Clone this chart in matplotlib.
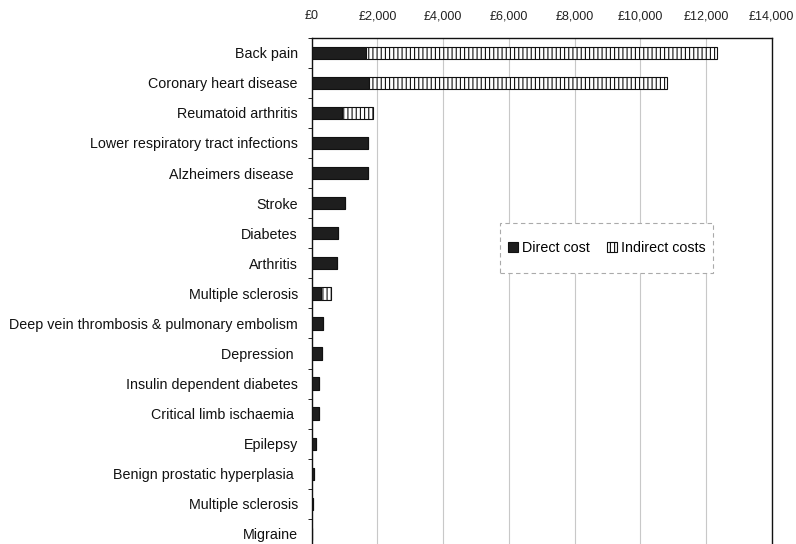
import numpy as np
import matplotlib.pyplot as plt
from matplotlib.patches import Rectangle
from matplotlib.ticker import FuncFormatter, FixedLocator

plt.rcParams['font.family'] = ['Liberation Sans', 'DejaVu Sans']
plt.rcParams['hatch.linewidth'] = 0.8

# Conditions, top to bottom
conditions = ['Back pain', 'Coronary heart disease', 'Reumatoid arthritis',
              'Lower respiratory tract infections', 'Alzheimers disease ',
              'Stroke', 'Diabetes', 'Arthritis', 'Multiple sclerosis',
              'Deep vein thrombosis & pulmonary embolism', 'Depression ',
              'Insulin dependent diabetes', 'Critical limb ischaemia ',
              'Epilepsy', 'Benign prostatic hyperplasia ',
              'Multiple sclerosis', 'Migraine']

# cost per case, GBP
direct_cost = [1650, 1745, 910, 1705, 1705, 1015, 810, 770, 275,
               335, 305, 220, 220, 130, 80, 25, 20]
indirect_cost = [10680, 9060, 955, 0, 0, 0, 0, 0, 320,
                 0, 0, 0, 0, 0, 0, 0, 0]

x_ticks = [0, 2000, 4000, 6000, 8000, 10000, 12000, 14000]

fig = plt.figure(figsize=(7.96, 5.44), dpi=100)
ax = fig.add_axes([0.3916, -0.0092, 0.5779, 0.9399])

y = np.arange(len(conditions))
h = 0.41
ax.barh(y, direct_cost, height=h, color='#1e1e1e', edgecolor='#111111',
        linewidth=0.8, label='Direct cost', zorder=3)
ax.barh(y, indirect_cost, height=h, left=direct_cost, color='white',
        edgecolor='#111111', hatch='||||', linewidth=0.8,
        label='Indirect costs', zorder=3)

ax.set_xlim(0, 14000)
ax.set_ylim(len(conditions) - 0.5, -0.5)
ax.set_xticks(x_ticks)
ax.xaxis.set_major_formatter(FuncFormatter(lambda v, p: '£{:,.0f}'.format(v)))
ax.xaxis.tick_top()
ax.tick_params(axis='x', length=0, pad=11, labelsize=9, colors='#222222')
ax.grid(axis='x', color='#c8c8c8', linewidth=0.8, zorder=0)

ax.set_yticks(y)
ax.set_yticklabels(conditions)
ax.tick_params(axis='y', length=0, pad=10, labelsize=10.3, colors='#111111')
ax.yaxis.set_minor_locator(FixedLocator(np.arange(-0.5, len(conditions), 1)))
ax.tick_params(axis='y', which='minor', length=3, width=0.6, direction='out')

for s in ax.spines.values():
    s.set_color('#111111')
    s.set_linewidth(1.0)

# legend box drawn separately so it can be taller than the entries
ax.add_patch(Rectangle((0.409, 0.540), 0.463, 0.098, transform=ax.transAxes,
                       facecolor='white', edgecolor='#aaaaaa', linewidth=0.8,
                       linestyle=(0, (4, 3)), zorder=4))
leg = ax.legend(loc='center', bbox_to_anchor=(0.641, 0.589), ncol=2,
                fontsize=10.3, frameon=False,
                handlelength=0.7, handleheight=0.7, handletextpad=0.3,
                columnspacing=1.2, borderaxespad=0)
leg.set_zorder(5)

fig.savefig('out.png', dpi=100)
